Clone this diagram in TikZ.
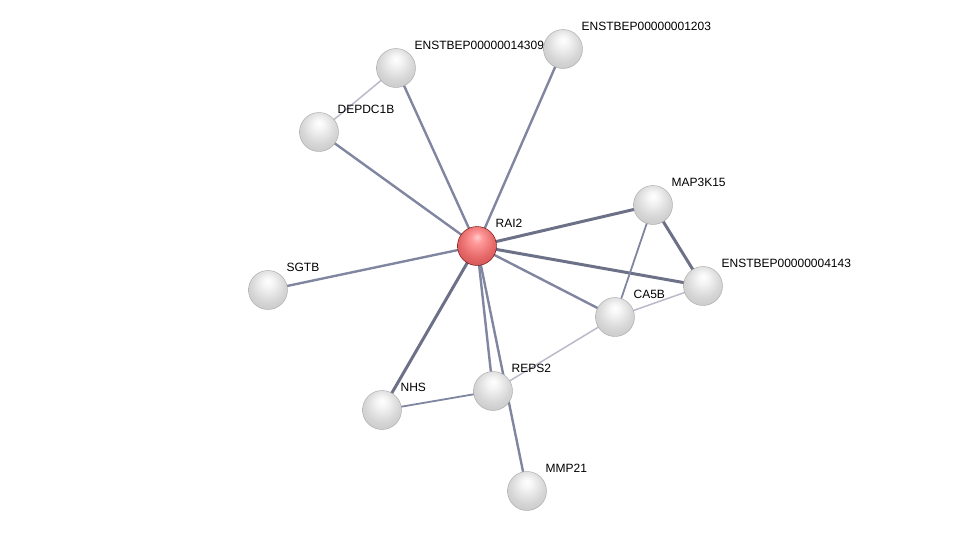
\documentclass[tikz,border=0pt]{standalone}
\usepackage{fontspec}
\setmainfont{Liberation Sans}
\usepackage{tikz}
\usetikzlibrary{backgrounds}

\definecolor{edgegray}{RGB}{128,133,160}
\definecolor{edgelight}{RGB}{185,186,202}
\pgfdeclareradialshading{greysphere}{\pgfpoint{0bp}{12bp}}{color(0bp)=(white); color(7bp)=(gray!8); color(22bp)=(gray!32); color(34bp)=(gray!45); color(44bp)=(gray!62); color(50bp)=(gray!80)}
\pgfdeclareradialshading{redsphere}{\pgfpoint{0bp}{12bp}}{color(0bp)=(red!20!white); color(7bp)=(red!40!white); color(22bp)=(red!55!white!90!black); color(34bp)=(red!60!white!80!black); color(44bp)=(red!60!black); color(50bp)=(red!40!black)}

\begin{document}
\begin{tikzpicture}[x=1pt,y=-1pt]
    \tikzstyle{protein}=[circle, minimum size=39pt, inner sep=0, draw=gray!70, line width=0.4pt, shading=greysphere]
    \tikzstyle{query}=[protein, draw=red!40!black, shading=redsphere]
    \tikzstyle{lbl}=[font=\fontsize{12}{14}\selectfont, inner sep=0, label distance=6.3pt]
    \tikzstyle{link}=[draw=edgegray, line width=2.4pt]
    \tikzstyle{strong}=[draw=edgegray!85!black, line width=3pt]
    \tikzstyle{weak}=[draw=edgegray, line width=1.8pt]
    \tikzstyle{faint}=[draw=edgelight, line width=1.5pt]
    \useasboundingbox (0,0) rectangle (975,536);
    \node[query] (rai2) at (477,246) [label={[lbl]north east:RAI2}] {};
    \node[protein] (e14309) at (396,68) [label={[lbl]north east:ENSTBEP00000014309}] {};
    \node[protein] (e1203) at (563,49) [label={[lbl]north east:ENSTBEP00000001203}] {};
    \node[protein] (depdc1b) at (319,132) [label={[lbl]north east:DEPDC1B}] {};
    \node[protein] (map3k15) at (653,205) [label={[lbl]north east:MAP3K15}] {};
    \node[protein] (e4143) at (703,286) [label={[lbl]north east:ENSTBEP00000004143}] {};
    \node[protein] (sgtb) at (268,290) [label={[lbl]north east:SGTB}] {};
    \node[protein] (ca5b) at (615,317) [label={[lbl]north east:CA5B}] {};
    \node[protein] (reps2) at (493,391) [label={[lbl]north east:REPS2}] {};
    \node[protein] (nhs) at (382,410) [label={[lbl]north east:NHS}] {};
    \node[protein] (mmp21) at (527,491) [label={[lbl]north east:MMP21}] {};
    \begin{scope}[on background layer]
      \draw[link] (rai2.center) -- (e14309.center);
      \draw[link] (rai2.center) -- (e1203.center);
      \draw[link] (rai2.center) -- (depdc1b.center);
      \draw[link] (rai2.center) -- (sgtb.center);
      \draw[link] (rai2.center) -- (ca5b.center);
      \draw[link] (rai2.center) -- (reps2.center);
      \draw[link] (rai2.center) -- (mmp21.center);
      \draw[strong] (rai2.center) -- (map3k15.center);
      \draw[strong] (rai2.center) -- (e4143.center);
      \draw[strong] (rai2.center) -- (nhs.center);
      \draw[strong] (map3k15.center) -- (e4143.center);
      \draw[weak] (map3k15.center) -- (ca5b.center);
      \draw[weak] (reps2.center) -- (nhs.center);
      \draw[faint] (ca5b.center) -- (e4143.center);
      \draw[faint] (ca5b.center) -- (reps2.center);
      \draw[faint] (e14309.center) -- (depdc1b.center);
    \end{scope}
\end{tikzpicture}
\end{document}
